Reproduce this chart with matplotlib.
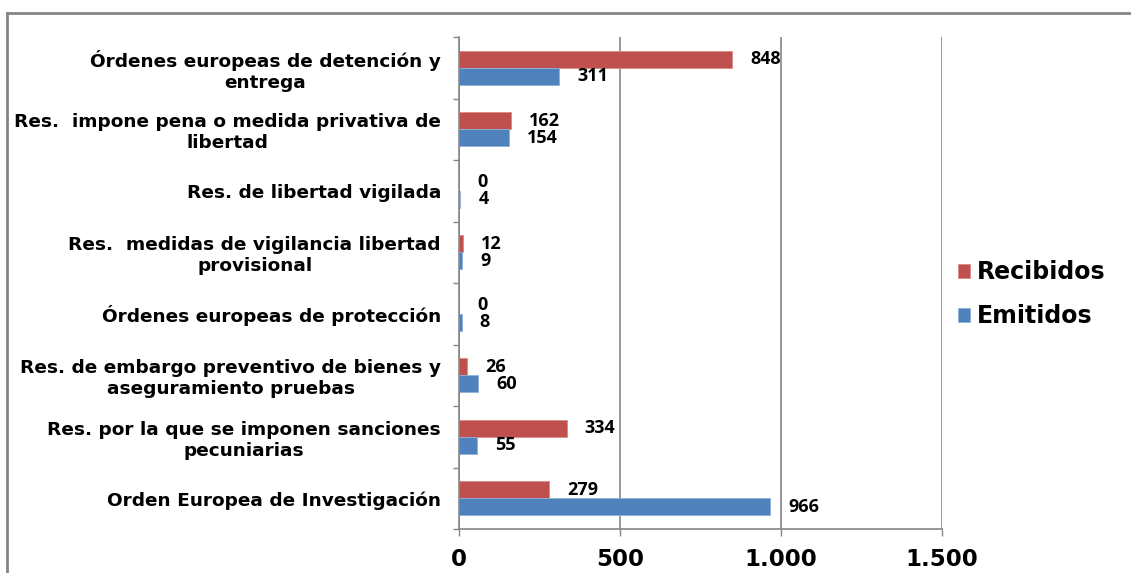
import numpy as np
import matplotlib.pyplot as plt
from matplotlib.lines import Line2D
from matplotlib.ticker import FuncFormatter

categorias = [
    'Orden Europea de Investigación',
    'Res. por la que se imponen sanciones\npecuniarias',
    'Res. de embargo preventivo de bienes y\naseguramiento pruebas',
    'Órdenes europeas de protección',
    'Res.  medidas de vigilancia libertad\nprovisional',
    'Res. de libertad vigilada',
    'Res.  impone pena o medida privativa de\nlibertad',
    'Órdenes europeas de detención y\nentrega',
]
recibidos = [279, 334, 26, 0, 12, 0, 162, 848]
emitidos = [966, 55, 60, 8, 9, 4, 154, 311]
xticks = [0, 500, 1000, 1500]

rojo = '#C0504D'
azul = '#4F81BD'
gris = '#868686'

fig = plt.figure(figsize=(11.31, 5.73), dpi=100)
ax = fig.add_axes([459/1131, 1-529/573, 483/1131, 492/573])

y = np.arange(len(categorias))
h = 0.275
b1 = ax.barh(y + h/2, recibidos, height=h, color=rojo, edgecolor='#d88a88', linewidth=0.6, label='Recibidos')
b2 = ax.barh(y - h/2, emitidos, height=h, color=azul, edgecolor='#8fb0d8', linewidth=0.6, label='Emitidos')

for bars in (b1, b2):
    ax.bar_label(bars, padding=13, fontsize=13, fontweight='bold', family='Open Sans')

ax.set_xlim(0, 1500)
ax.set_ylim(-0.5, len(categorias) - 0.5)
ax.set_xticks(xticks)
ax.xaxis.set_major_formatter(FuncFormatter(lambda v, p: f'{int(v):,}'.replace(',', '.')))
ax.tick_params(axis='x', length=5, width=1, color=gris, pad=9, labelsize=16.5)
for t in ax.get_xticklabels():
    t.set_fontweight('bold')

ax.set_yticks(y)
ax.set_yticklabels(categorias, fontsize=13.3, fontweight='bold', multialignment='center')
ax.set_yticks(np.arange(-0.5, len(categorias)), minor=True)
ax.tick_params(axis='y', which='major', length=0, pad=13)
ax.tick_params(axis='y', which='minor', length=4, width=1, color=gris)

ax.grid(axis='x', color=gris, linewidth=1.2)
ax.set_axisbelow(True)
for s in ('top', 'right'):
    ax.spines[s].set_visible(False)
for s in ('left', 'bottom'):
    ax.spines[s].set_color(gris)
    ax.spines[s].set_linewidth(1.2)

leg = ax.legend(loc='center left', bbox_to_anchor=(1.033, 0.477), frameon=False,
                prop={'size': 17, 'weight': 'bold'}, handlelength=0.5, handleheight=0.5,
                handletextpad=0.3, labelspacing=0.85, borderpad=0, borderaxespad=0)

# marco exterior
fig.add_artist(Line2D([7/1131, 7/1131], [0, 1-13/573], color=gris, linewidth=2))
fig.add_artist(Line2D([7/1131, 1], [1-13/573, 1-13/573], color=gris, linewidth=2))

fig.savefig('out.png', dpi=100)
